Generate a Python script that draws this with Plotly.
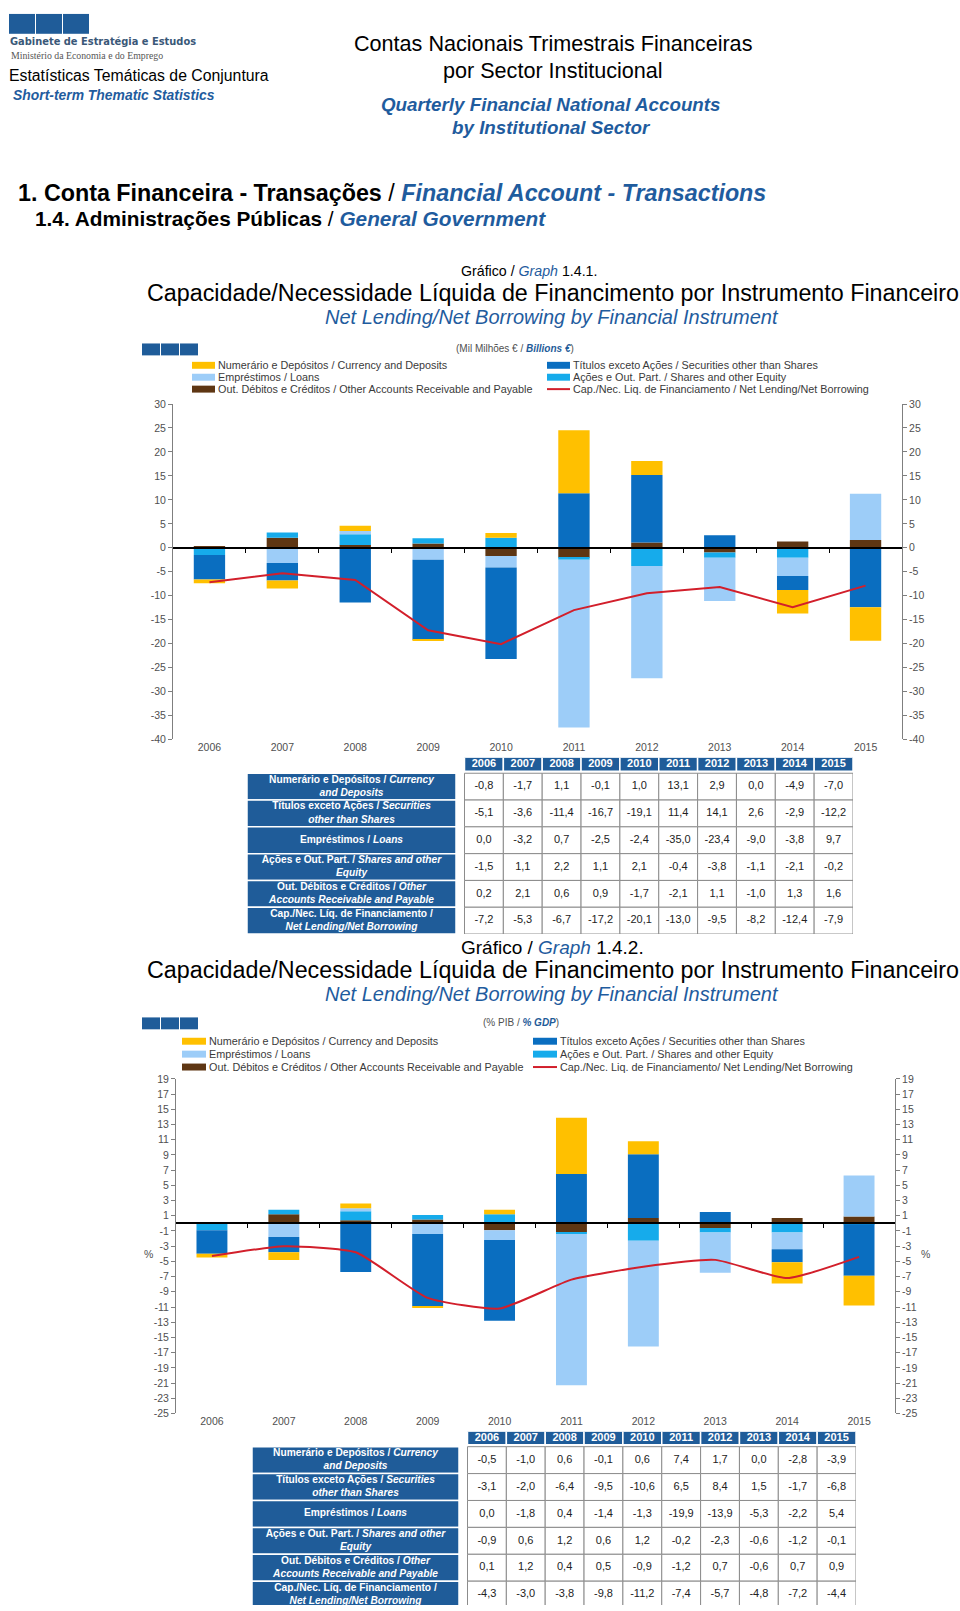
import plotly.graph_objects as go

W, H = 960, 1611

years = ["2006", "2007", "2008", "2009", "2010", "2011", "2012", "2013", "2014", "2015"]

# Graph 1.4.1 - billions of euros
cur_bn = [-0.8, -1.7, 1.1, -0.1, 1.0, 13.1, 2.9, 0.0, -4.9, -7.0]
sec_bn = [-5.1, -3.6, -11.4, -16.7, -19.1, 11.4, 14.1, 2.6, -2.9, -12.2]
loa_bn = [0.0, -3.2, 0.7, -2.5, -2.4, -35.0, -23.4, -9.0, -3.8, 9.7]
sha_bn = [-1.5, 1.1, 2.2, 1.1, 2.1, -0.4, -3.8, -1.1, -2.1, -0.2]
oth_bn = [0.2, 2.1, 0.6, 0.9, -1.7, -2.1, 1.1, -1.0, 1.3, 1.6]
net_bn = [-7.2, -5.3, -6.7, -17.2, -20.1, -13.0, -9.5, -8.2, -12.4, -7.9]

# Graph 1.4.2 - % of GDP
cur_pc = [-0.5, -1.0, 0.6, -0.1, 0.6, 7.4, 1.7, 0.0, -2.8, -3.9]
sec_pc = [-3.1, -2.0, -6.4, -9.5, -10.6, 6.5, 8.4, 1.5, -1.7, -6.8]
loa_pc = [0.0, -1.8, 0.4, -1.4, -1.3, -19.9, -13.9, -5.3, -2.2, 5.4]
sha_pc = [-0.9, 0.6, 1.2, 0.6, 1.2, -0.2, -2.3, -0.6, -1.2, -0.1]
oth_pc = [0.1, 1.2, 0.4, 0.5, -0.9, -1.2, 0.7, -0.6, 0.7, 0.9]
net_pc = [-4.3, -3.0, -3.8, -9.8, -11.2, -7.4, -5.7, -4.8, -7.2, -4.4]

yticks_bn = [-40, -35, -30, -25, -20, -15, -10, -5, 0, 5, 10, 15, 20, 25, 30]
yticks_pc = [-25, -23, -21, -19, -17, -15, -13, -11, -9, -7, -5, -3, -1, 1, 3, 5, 7, 9, 11, 13, 15, 17, 19]

legend_names_1 = {
    "cur": "Numerário e Depósitos / Currency and Deposits",
    "loa": "Empréstimos / Loans",
    "oth": "Out. Débitos e Créditos / Other Accounts Receivable and Payable",
    "sec": "Títulos exceto Ações / Securities other than Shares",
    "sha": "Ações e Out. Part. / Shares and other Equity",
    "net": "Cap./Nec. Liq. de Financiamento / Net Lending/Net Borrowing",
}
legend_names_2 = dict(legend_names_1)
legend_names_2["net"] = "Cap./Nec. Liq. de Financiamento/ Net Lending/Net Borrowing"

row_labels = [
    "Numerário e Depósitos / <i>Currency</i><br><i>and Deposits</i>",
    "Títulos exceto Ações / <i>Securities</i><br><i>other than Shares</i>",
    "Empréstimos / <i>Loans</i>",
    "Ações e Out. Part. / <i>Shares and other</i><br><i>Equity</i>",
    "Out. Débitos e Créditos / <i>Other</i><br><i>Accounts Receivable and Payable</i>",
    "Cap./Nec. Líq. de Financiamento /<br><i>Net Lending/Net Borrowing</i>",
]

COLORS = {"cur": "#FFC000", "sec": "#0A6EC0", "loa": "#9DCDF8",
          "sha": "#16ABEB", "oth": "#5E3613", "net": "#D21F2B"}
BLUE = "#1F5C99"
TXTBLUE = "#1F5C9E"
FONT = "Liberation Sans, Arial, sans-serif"
NARROW = "Liberation Sans Narrow, Arial Narrow, Liberation Sans, sans-serif"
AXC = "#7F7F7F"

STACK_ORDER = ["oth", "sha", "loa", "sec", "cur"]


def fx(x):
    return x / W


def fy(y):
    return 1 - y / H


fig = go.Figure()
shapes = []
annotations = []


def ann(text, x, y, size, color="#000000", family=FONT, xanchor="left"):
    annotations.append(dict(text=text, x=fx(x), y=fy(y), xref="paper", yref="paper",
                            xanchor=xanchor, yanchor="middle", showarrow=False,
                            font=dict(size=size, color=color, family=family)))


def rect_px(x0, y0, x1, y1, color):
    shapes.append(dict(type="rect", xref="paper", yref="paper", x0=fx(x0), x1=fx(x1),
                       y0=fy(y1), y1=fy(y0), fillcolor=color, line=dict(width=0)))


def blue_span(t):
    return "<span style='color:" + TXTBLUE + "'>" + t + "</span>"


# ---------------- header ----------------
for i in range(3):
    rect_px(9 + i * 27, 8, 9 + i * 27 + 26, 28, BLUE)
ann("<b>Gabinete de Estratégia e Estudos</b>", 8, 36, 9.9, "#3A5878", "DejaVu Sans, sans-serif")
ann("Ministério da Economia e do Emprego", 9, 50, 9.8, "#555555", "Liberation Serif, serif")
ann("Estatísticas Temáticas de Conjuntura", 7, 70, 15.8)
ann("<b><i>Short-term Thematic Statistics</i></b>", 11, 90, 13.9, TXTBLUE)
ann("Contas Nacionais Trimestrais Financeiras", 553, 38, 21.6, xanchor="center")
ann("por Sector Institucional", 553, 65, 21.6, xanchor="center")
ann("<b><i>Quarterly Financial National Accounts</i></b>", 551, 99, 18.8, TXTBLUE, xanchor="center")
ann("<b><i>by Institutional Sector</i></b>", 551, 122, 18.8, TXTBLUE, xanchor="center")
ann("<b>1. Conta Financeira - Transações</b> / <b><i>" + blue_span("Financial Account - Transactions") + "</i></b>",
    16, 188, 23.3, family=NARROW)
ann("<b>1.4. Administrações Públicas</b> / <b><i>" + blue_span("General Government") + "</i></b>",
    33, 214, 20.8, family=NARROW)


def chart_block(top, sq_top, graph_no, gsize, unit_text, unit_cx):
    ann("Gráfico / <i>" + blue_span("Graph") + "</i> " + graph_no, 459, top, gsize, family=NARROW)
    ann("Capacidade/Necessidade Líquida de Financimento por Instrumento Financeiro", 553, top + 22, 23.3,
        xanchor="center")
    ann("<i>Net Lending/Net Borrowing by Financial Instrument</i>", 552, top + 46, 20, TXTBLUE, xanchor="center")
    ann(unit_text, unit_cx, sq_top + 5, 10, "#505050", xanchor="center")
    for i in range(3):
        rect_px(142 + i * 19, sq_top, 142 + i * 19 + 18, sq_top + 12, BLUE)


chart_block(267, 340, "1.4.1.", 14.2,
            "(Mil Milhões € / <b><i><span style='color:" + BLUE + "'>Billions €</span></i></b>)", 515)
chart_block(949, 1019, "1.4.2.", 19,
            "(% PIB / <b><i><span style='color:" + BLUE + "'>% GDP</span></i></b>)", 521)


def legend(names, lx, rx, ys, sw):
    items_l = ["cur", "loa", "oth"]
    items_r = ["sec", "sha", "net"]
    for col_x, items in ((lx, items_l), (rx, items_r)):
        for key, y in zip(items, ys):
            if key == "net":
                shapes.append(dict(type="line", xref="paper", yref="paper", x0=fx(col_x), x1=fx(col_x + sw),
                                   y0=fy(y), y1=fy(y), line=dict(color=COLORS[key], width=2)))
            else:
                rect_px(col_x, y - 3.5, col_x + sw, y + 3.5, COLORS[key])
            ann(names[key], col_x + sw + 1, y, 10.8, "#3A3A3A")


legend(legend_names_1, 192, 547, [362, 374, 386], 23)
legend(legend_names_2, 182, 533, [1043, 1056, 1069], 24)


# ---------------- charts ----------------
def add_chart(vals, net, xa, ya, ya_r, xa_b, spline):
    for key in STACK_ORDER:
        fig.add_trace(go.Bar(x=years, y=vals[key], marker=dict(color=COLORS[key], line=dict(width=0)),
                             xaxis=xa, yaxis=ya, showlegend=False, hoverinfo="skip"))
    fig.add_trace(go.Scatter(x=years, y=net, mode="lines", xaxis=xa, yaxis=ya, showlegend=False,
                             line=dict(color=COLORS["net"], width=2, shape="spline" if spline else "linear",
                                       smoothing=0.5), hoverinfo="skip"))
    fig.add_trace(go.Scatter(x=years, y=[None] * len(years), xaxis=xa, yaxis=ya_r, showlegend=False,
                             hoverinfo="skip", mode="lines"))
    fig.add_trace(go.Scatter(x=[None], y=[None], xaxis=xa_b, yaxis=ya, showlegend=False,
                             hoverinfo="skip", mode="lines"))


add_chart({"cur": cur_bn, "sec": sec_bn, "loa": loa_bn, "sha": sha_bn, "oth": oth_bn},
          net_bn, "x", "y", "y2", "x3", False)
add_chart({"cur": cur_pc, "sec": sec_pc, "loa": loa_pc, "sha": sha_pc, "oth": oth_pc},
          net_pc, "x2", "y3", "y4", "x4", True)

tickfont = dict(size=10.5, color="#505050", family=FONT)


def yaxis(dom_px, ticks, side, anchor, overlay=None):
    d = dict(domain=[fy(dom_px[1]), fy(dom_px[0])], range=[ticks[0], ticks[-1]], tickmode="array",
             tickvals=ticks, ticktext=[str(t) for t in ticks], showline=True, linecolor=AXC,
             linewidth=1, ticks="outside", ticklen=4, tickcolor=AXC, tickfont=tickfont,
             showgrid=False, zeroline=False, fixedrange=True, side=side, anchor=anchor)
    if overlay:
        d["overlaying"] = overlay
    return d


def xaxis(dom_px, anchor):
    return dict(domain=[fx(dom_px[0]), fx(dom_px[1])], type="category", anchor=anchor, showline=False,
                ticks="", tickfont=tickfont, showgrid=False, zeroline=False, fixedrange=True)


def zero_axis(overlay, dom_y_px, ticks):
    d0, d1 = fy(dom_y_px[1]), fy(dom_y_px[0])
    pos = d0 + (0 - ticks[0]) / (ticks[-1] - ticks[0]) * (d1 - d0)
    n = len(years)
    return dict(overlaying=overlay, anchor="free", position=pos, type="linear", range=[-0.5, n - 0.5],
                tickmode="array", tickvals=[i + 0.5 for i in range(n - 1)], ticks="outside", ticklen=4,
                tickcolor="#000000", showticklabels=False, showline=True, linecolor="#000000",
                linewidth=1.5, showgrid=False, zeroline=False, fixedrange=True)


C1_Y = (401, 739)
C2_Y = (1081, 1418)
layout = dict(
    xaxis=xaxis((173, 902), "y"),
    yaxis=yaxis(C1_Y, yticks_bn, "left", "x"),
    yaxis2=yaxis(C1_Y, yticks_bn, "right", "x", "y"),
    xaxis3=zero_axis("x", C1_Y, yticks_bn),
    xaxis2=xaxis((176, 895), "y3"),
    yaxis3=yaxis(C2_Y, yticks_pc, "left", "x2"),
    yaxis4=yaxis(C2_Y, yticks_pc, "right", "x2", "y3"),
    xaxis4=zero_axis("x2", C2_Y, yticks_pc),
)

ann("%", 148, 1257, 10.5, "#505050", xanchor="center")
ann("%", 925, 1257, 10.5, "#505050", xanchor="center")


# ---------------- tables ----------------
def fmt(v):
    return ("%.1f" % v).replace(".", ",")


def add_table(rows, xa, ya, x_px, y_top, label_w, gap, col_w, header_h, hgap, row_h):
    n = len(years)
    tw = label_w + gap + n * col_w
    th = header_h + hgap + len(rows) * row_h
    layout["xaxis" + xa[1:]] = dict(domain=[fx(x_px), fx(x_px + tw)], range=[0, tw], visible=False,
                                    fixedrange=True, anchor=ya)
    layout["yaxis" + ya[1:]] = dict(domain=[max(0, fy(y_top + th)), fy(y_top)],
                                    range=[min(th, H - y_top), 0], visible=False,
                                    fixedrange=True, anchor=xa)
    x0 = label_w + gap
    for i in range(n):
        shapes.append(dict(type="rect", xref=xa, yref=ya, x0=x0 + i * col_w, x1=x0 + (i + 1) * col_w,
                           y0=0, y1=header_h, fillcolor=BLUE, line=dict(color="white", width=1.5), layer="below"))
    body0 = header_h + hgap
    for r in range(len(rows)):
        yy = body0 + r * row_h
        shapes.append(dict(type="rect", xref=xa, yref=ya, x0=0, x1=label_w, y0=yy, y1=yy + row_h,
                           fillcolor=BLUE, line=dict(color="white", width=1.5), layer="below"))
        for i in range(n):
            shapes.append(dict(type="rect", xref=xa, yref=ya, x0=x0 + i * col_w, x1=x0 + (i + 1) * col_w,
                               y0=yy, y1=yy + row_h, fillcolor="white", line=dict(color="#8C8C8C", width=1),
                               layer="below"))
    xs = [x0 + (i + 0.5) * col_w for i in range(n)]
    fig.add_trace(go.Scatter(x=xs, y=[header_h / 2] * n, text=["<b>" + y + "</b>" for y in years], mode="text",
                             textfont=dict(size=11, color="white", family=FONT), xaxis=xa, yaxis=ya,
                             showlegend=False, hoverinfo="skip", cliponaxis=False))
    ys = [body0 + (r + 0.5) * row_h for r in range(len(rows))]
    fig.add_trace(go.Scatter(x=[label_w / 2] * len(rows), y=ys, text=["<b>" + t + "</b>" for t in row_labels],
                             mode="text", textfont=dict(size=10.2, color="white", family=FONT),
                             xaxis=xa, yaxis=ya, showlegend=False, hoverinfo="skip", cliponaxis=False))
    for r, vals in enumerate(rows):
        fig.add_trace(go.Scatter(x=xs, y=[ys[r]] * n, text=[fmt(v) for v in vals], mode="text",
                                 textfont=dict(size=11, color="#222222", family=FONT), xaxis=xa, yaxis=ya,
                                 showlegend=False, hoverinfo="skip", cliponaxis=False))


add_table([cur_bn, sec_bn, loa_bn, sha_bn, oth_bn, net_bn], "x5", "y5", 247, 757, 209, 8.5, 38.85, 14, 2, 27)
add_table([cur_pc, sec_pc, loa_pc, sha_pc, oth_pc, net_pc], "x6", "y6", 252, 1436, 207, 8.5, 38.85, 13.5, 2, 27.1)

fig.update_layout(
    width=W, height=H, margin=dict(l=0, r=0, t=0, b=0), paper_bgcolor="white", plot_bgcolor="white",
    barmode="relative", bargap=0.57, showlegend=False, shapes=shapes, annotations=annotations,
    font=dict(family=FONT), **layout,
)

fig.write_html("out.html")
